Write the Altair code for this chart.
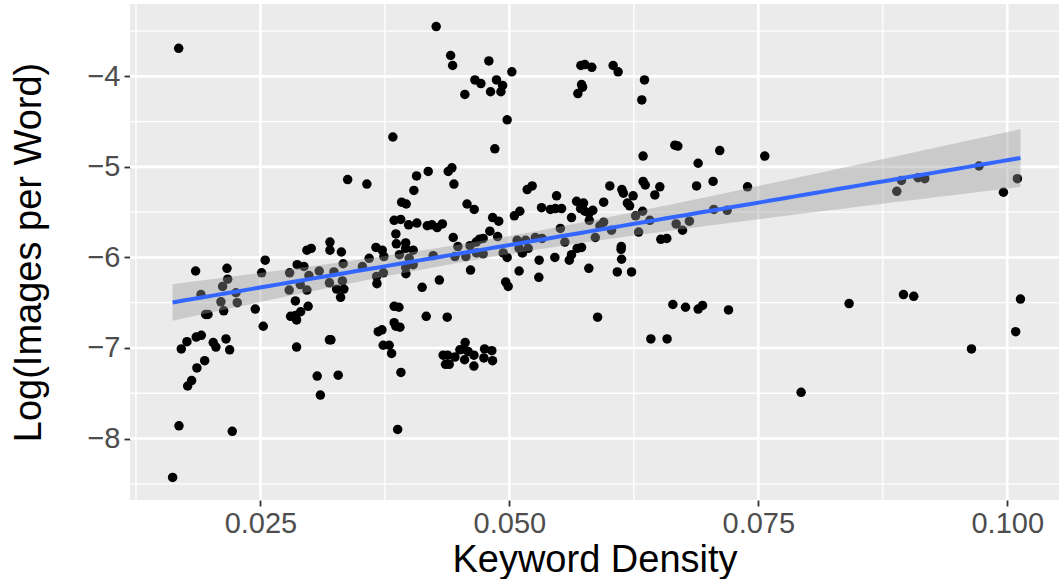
import altair as alt
import numpy as np
import pandas as pd

# Keyword density vs. log images per word, one entry per page
kw_density = [
    0.01679, 0.01618, 0.01682, 0.02217, 0.01769, 0.01809, 0.01862, 0.01940, 0.01705, 0.01762,
    0.01855, 0.01906, 0.02026, 0.02053, 0.02154, 0.02191, 0.02528, 0.01950, 0.01973, 0.02131,
    0.02448, 0.02103, 0.02267, 0.01903, 0.02254, 0.02120, 0.01849, 0.02164, 0.02171, 0.02548,
    0.02512, 0.02793, 0.02789, 0.02869, 0.02937, 0.02987, 0.03090, 0.02900, 0.02967, 0.02851,
    0.02979, 0.02803, 0.02853, 0.02904, 0.02863, 0.02863, 0.03193, 0.03070, 0.03102, 0.02967,
    0.03010, 0.03193, 0.03198, 0.03198, 0.03313, 0.03331, 0.03238, 0.03265, 0.03338, 0.03305,
    0.03323, 0.03281, 0.03208, 0.03376, 0.03569, 0.03592, 0.03524, 0.03660, 0.03723, 0.03740,
    0.03667, 0.03735, 0.03670, 0.03843, 0.03891, 0.03683, 0.03720, 0.03843, 0.03860, 0.03901,
    0.03733, 0.03793, 0.03817, 0.03911, 0.03878, 0.03830, 0.03860, 0.03865, 0.03896, 0.03843,
    0.03909, 0.03964, 0.03918, 0.04041, 0.04068, 0.04185, 0.03988, 0.04071, 0.04175, 0.04222,
    0.04275, 0.04327, 0.03959, 0.03958, 0.04034, 0.03994, 0.03959, 0.04034, 0.03961, 0.04124,
    0.04297, 0.04235, 0.04165, 0.04265, 0.04410, 0.04430, 0.04794, 0.04654, 0.04714, 0.04871,
    0.04932, 0.04915, 0.04811, 0.04553, 0.04978, 0.04854, 0.04386, 0.04423, 0.04443, 0.04575,
    0.04647, 0.04832, 0.04893, 0.04804, 0.04882, 0.04436, 0.04699, 0.04737, 0.04667, 0.04483,
    0.04605, 0.04453, 0.04563, 0.04671, 0.04737, 0.04610, 0.04335, 0.04380, 0.04453, 0.04556,
    0.04543, 0.04586, 0.04550, 0.04644, 0.04644, 0.04751, 0.04824, 0.04744, 0.04831, 0.04359,
    0.04396, 0.04503, 0.04376, 0.04938, 0.04978, 0.04963, 0.04988, 0.05025, 0.05179, 0.05229,
    0.05474, 0.05323, 0.05412, 0.05462, 0.05524, 0.05050, 0.05105, 0.05624, 0.05512, 0.05557,
    0.05078, 0.05163, 0.05261, 0.05328, 0.05189, 0.05098, 0.05131, 0.05299, 0.05457, 0.05602,
    0.05624, 0.05681, 0.05098, 0.05296, 0.05675, 0.05725, 0.05798, 0.05718, 0.05758, 0.05828,
    0.06042, 0.06092, 0.05725, 0.05735, 0.05688, 0.06357, 0.06330, 0.06662, 0.06692, 0.06343,
    0.06896, 0.06009, 0.06343, 0.06365, 0.06511, 0.06461, 0.06880, 0.07046, 0.06130, 0.06145,
    0.06243, 0.06185, 0.06208, 0.05947, 0.05745, 0.05758, 0.05715, 0.05838, 0.05801, 0.05803,
    0.05947, 0.05909, 0.06338, 0.06268, 0.06411, 0.06675, 0.06739, 0.06808, 0.07053, 0.07187,
    0.06026, 0.05863, 0.06298, 0.06521, 0.06581, 0.06124, 0.06122, 0.06127, 0.06084, 0.06227,
    0.05886, 0.06642, 0.06769, 0.06896, 0.06940, 0.06421, 0.06584, 0.07113, 0.07565, 0.07392,
    0.07201, 0.07930, 0.08412, 0.08938, 0.08891, 0.09104, 0.09172, 0.09717, 0.09962, 0.10102,
    0.08958, 0.09061, 0.09641, 0.10085, 0.10133,
]

log_img_per_word = [
    -3.69, -8.43, -7.86, -7.92, -7.42, -7.36, -7.22, -7.14, -7.01, -6.93,
    -6.88, -6.86, -6.94, -6.99, -6.90, -7.02, -6.76, -6.63, -6.63, -6.59,
    -6.57, -6.49, -6.50, -6.41, -6.39, -6.32, -6.15, -6.12, -6.24, -6.03,
    -6.17, -6.17, -6.36, -6.08, -6.10, -6.20, -6.15, -6.30, -6.36, -6.48,
    -6.54, -6.65, -6.64, -6.60, -6.69, -6.99, -6.91, -7.31, -7.52, -5.92,
    -5.90, -6.28, -5.83, -5.92, -5.94, -6.07, -6.16, -6.35, -6.35, -6.44,
    -6.26, -7.30, -6.91, -5.14, -5.19, -6.01, -6.10, -5.89, -5.92, -5.99,
    -6.21, -6.17, -6.29, -6.54, -6.55, -6.82, -6.80, -6.72, -6.76, -6.77,
    -6.97, -6.97, -7.06, -7.27, -7.90, -4.67, -5.74, -5.85, -5.97, -5.59,
    -5.58, -5.41, -5.39, -5.26, -5.10, -5.05, -5.64, -5.62, -5.65, -5.64,
    -5.67, -5.63, -5.84, -5.90, -5.92, -6.01, -6.11, -6.08, -6.18, -6.33,
    -6.25, -5.98, -6.65, -3.45, -3.77, -3.88, -3.83, -4.04, -4.08, -4.04,
    -4.10, -4.17, -4.17, -4.20, -4.48, -4.80, -5.05, -5.01, -5.19, -5.41,
    -5.47, -5.56, -5.60, -5.71, -5.77, -5.78, -5.80, -5.79, -5.83, -5.88,
    -5.87, -5.99, -5.99, -5.95, -5.96, -6.14, -7.08, -7.08, -7.10, -6.94,
    -7.01, -7.04, -7.13, -7.08, -7.20, -7.01, -7.03, -7.11, -7.14, -7.18,
    -7.18, -7.02, -6.66, -5.95, -6.00, -6.27, -6.32, -3.95, -5.25, -5.21,
    -5.32, -5.45, -5.47, -5.46, -5.46, -5.54, -5.49, -5.56, -5.68, -5.83,
    -5.81, -5.81, -5.78, -5.79, -5.90, -5.90, -5.95, -6.03, -6.00, -6.03,
    -5.97, -5.90, -6.15, -6.22, -5.38, -5.89, -6.12, -3.88, -3.87, -3.90,
    -3.88, -3.95, -4.09, -4.12, -4.19, -4.04, -4.26, -4.76, -4.77, -4.88,
    -4.96, -5.21, -5.16, -5.20, -5.22, -5.31, -5.21, -5.16, -5.25, -5.29,
    -5.32, -5.40, -5.43, -5.39, -5.40, -5.49, -5.46, -5.48, -5.51, -5.59,
    -5.61, -5.65, -5.49, -5.54, -5.59, -5.63, -5.70, -5.60, -5.47, -5.48,
    -5.70, -5.78, -5.72, -5.80, -5.79, -5.88, -5.91, -6.02, -6.16, -6.16,
    -6.66, -6.52, -6.55, -6.57, -6.53, -6.90, -6.90, -4.82, -4.88, -5.22,
    -6.58, -7.49, -6.51, -5.15, -5.27, -5.12, -5.13, -4.99, -5.28, -5.13,
    -6.41, -6.43, -7.01, -6.82, -6.46,
]

x_ticks = [0.025, 0.050, 0.075, 0.100]
x_minor = [0.0125, 0.0375, 0.0625, 0.0875]
y_ticks = [-8, -7, -6, -5, -4]
y_minor = [-8.5, -7.5, -6.5, -5.5, -4.5, -3.5]
x_limits = [0.0119, 0.1052]

X_TITLE = "Keyword Density"
Y_TITLE = "Log(Images per Word)"
FONT = "Liberation Sans"

x = np.array(kw_density)
y = np.array(log_img_per_word)
y_span = y.max() - y.min()
y_limits = [float(y.min() - 0.05 * y_span), float(y.max() + 0.05 * y_span)]

# Ordinary least squares fit with a 95% confidence band
n = len(x)
slope, intercept = np.polyfit(x, y, 1)
resid = y - (intercept + slope * x)
s = np.sqrt((resid ** 2).sum() / (n - 2))
sxx = ((x - x.mean()) ** 2).sum()
t_crit = 1.968
xs = np.linspace(x.min(), x.max(), 80)
fit = intercept + slope * xs
se = s * np.sqrt(1.0 / n + (xs - x.mean()) ** 2 / sxx)
smooth = pd.DataFrame({"x": xs, "fit": fit, "lo": fit - t_crit * se, "hi": fit + t_crit * se})

points = pd.DataFrame({"density": kw_density, "logimg": log_img_per_word})

xs_scale = alt.Scale(domain=x_limits, nice=False, zero=False)
ys_scale = alt.Scale(domain=y_limits, nice=False, zero=False)

x_axis = alt.Axis(
    values=x_ticks, format=".3f", grid=False, domain=False,
    tickColor="#333333", tickWidth=1.8, tickSize=6,
    labelFont=FONT, labelFontSize=29, labelColor="#4D4D4D", labelPadding=3,
    titleFont=FONT, titleFontSize=38, titleFontWeight="normal", titleColor="black",
    titlePadding=3,
)
y_axis = alt.Axis(
    values=y_ticks, format="d", grid=False, domain=False,
    tickColor="#333333", tickWidth=1.8, tickSize=6,
    labelFont=FONT, labelFontSize=29, labelColor="#4D4D4D", labelPadding=4,
    titleFont=FONT, titleFontSize=38, titleFontWeight="normal", titleColor="black",
    titlePadding=38,
)


def xenc(field):
    return alt.X(field, scale=xs_scale, axis=x_axis, title=X_TITLE)


def yenc(field):
    return alt.Y(field, scale=ys_scale, axis=y_axis, title=Y_TITLE)


def vgrid(values, width):
    return alt.Chart(pd.DataFrame({"gx": values})).mark_rule(
        color="white", strokeWidth=width
    ).encode(x=xenc("gx:Q"))


def hgrid(values, width):
    return alt.Chart(pd.DataFrame({"gy": values})).mark_rule(
        color="white", strokeWidth=width
    ).encode(y=yenc("gy:Q"))


scatter = alt.Chart(points).mark_circle(size=90, color="black", opacity=1).encode(
    x=xenc("density:Q"),
    y=yenc("logimg:Q"),
)

band = alt.Chart(smooth).mark_area(color="#999999", opacity=0.4).encode(
    x=xenc("x:Q"),
    y=yenc("lo:Q"),
    y2="hi:Q",
)

line = alt.Chart(smooth).mark_line(color="#3366FF", strokeWidth=4).encode(
    x=xenc("x:Q"),
    y=yenc("fit:Q"),
)

chart = alt.layer(
    vgrid(x_minor, 1.3), hgrid(y_minor, 1.3),
    vgrid(x_ticks, 2.6), hgrid(y_ticks, 2.6),
    scatter, band, line,
).properties(
    width=929, height=496,
    autosize=alt.AutoSizeParams(type="none"),
    padding={"left": 130, "top": 4, "right": 0, "bottom": 79},
).configure_view(fill="#EBEBEB", strokeWidth=0)

chart.save("out.html", embed_options={"renderer": "svg", "actions": False})
